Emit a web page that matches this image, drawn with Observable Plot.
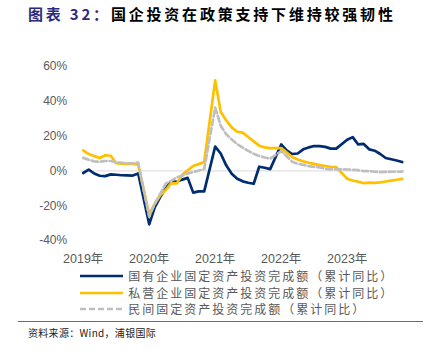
<!DOCTYPE html>
<html><head><meta charset="utf-8">
<script src="https://cdn.jsdelivr.net/npm/d3@7"></script>
<script src="https://cdn.jsdelivr.net/npm/@observablehq/plot@0.6"></script>
<style>
body{margin:0;background:#fff;width:429px;height:354px;position:relative;overflow:hidden;font-family:"Noto Sans CJK SC",sans-serif;}
#title{position:absolute;left:28px;top:3px;font-size:15px;font-weight:700;letter-spacing:2.8px;white-space:nowrap;line-height:22px;color:#000;}
#title .lab{color:#2B2A7E}
#chart{position:absolute;left:0;top:40px;}
#legend{position:absolute;left:80px;top:267.7px;}
.row{display:flex;align-items:center;height:16.67px;}
.row svg{display:block}
.row span{margin-left:5.3px;font-size:12px;letter-spacing:2px;color:#595959;white-space:nowrap;line-height:16px;}
#rule{position:absolute;left:18px;top:321px;width:405px;height:1.4px;background:#6B5FAF}
#source{position:absolute;left:28px;top:325px;font-size:10px;line-height:16px;color:#222;white-space:nowrap;letter-spacing:0.3px}
</style></head>
<body>
<div id="title"><span class="lab">图表 32：</span>国企投资在政策支持下维持较强韧性</div>
<div id="chart"></div>
<div id="legend"></div>
<div id="rule"></div>
<div id="source">资料来源：Wind，浦银国际</div>
<script>
// monthly cumulative data, Feb–Dec of each year (no January release)
const dates = [
  "2019-02","2019-03","2019-04","2019-05","2019-06","2019-07","2019-08","2019-09","2019-10","2019-11","2019-12",
  "2020-02","2020-03","2020-04","2020-05","2020-06","2020-07","2020-08","2020-09","2020-10","2020-11","2020-12",
  "2021-02","2021-03","2021-04","2021-05","2021-06","2021-07","2021-08","2021-09","2021-10","2021-11","2021-12",
  "2022-02","2022-03","2022-04","2022-05","2022-06","2022-07","2022-08","2022-09","2022-10","2022-11","2022-12",
  "2023-02","2023-03","2023-04","2023-05","2023-06","2023-07","2023-08","2023-09","2023-10","2023-11","2023-12"
];
const seriesNames = [
  "国有企业固定资产投资完成额（累计同比）",
  "私营企业固定资产投资完成额（累计同比）",
  "民间固定资产投资完成额（累计同比）"
];
const soe = [
  -1.2, 0.7, -1.5, -2.8, -3.0, -2.0, -2.2, -2.5, -2.6, -2.7, -1.5,
  -30.7, -21, -15, -10, -6, -6.3, -5, -4, -12.5, -11.8, -11.8,
  14, 10, 3.2, -1.6, -4.5, -6, -6.8, -7.4, 2.4, 1.8, 1.0,
  15.2, 11.8, 9.7, 10, 12.4, 13.5, 14.3, 14.2, 13.8, 12.8, 12.8,
  17.9, 19.4, 15.2, 15.5, 12.4, 11.6, 9.7, 7.4, 6.7, 6.0, 5.1
];
const pe = [
  11.8, 9.7, 8.5, 7.4, 9.0, 8.7, 4.5, 4.1, 4.0, 4.0, 3.6,
  -25, -19, -14, -11, -7, -7.2, -2.2, 0.3, 2.8, 3.9, 5.1,
  52, 34, 29, 25, 22.5, 22, 19.5, 17, 14.5, 13.5, 13.1,
  13.1, 10.5, 8, 6.5, 5.5, 4.7, 4, 3.3, 2.8, 2.4, 2.2,
  -4.5, -5.5, -6.2, -7, -6.7, -6.9, -6.6, -6.1, -5.6, -5.1, -4.6
];
const priv = [
  7.5, 6.4, 5.5, 5.3, 5.7, 5.7, 4.9, 4.7, 4.4, 4.5, 4.7,
  -26.4, -18.8, -13.3, -7.3, -5.7, -3.7, -2.8, -1.5, -0.7, 0.2, 1.0,
  36.4, 26.0, 21.0, 18.1, 15.4, 13.4, 11.5, 9.8, 8.6, 7.7, 7.0,
  11.4, 8.4, 5.3, 4.1, 3.5, 2.7, 2.3, 2.0, 1.2, 0.9, 0.9,
  0.8, 0.6, 0.4, -0.1, -0.2, -0.5, -0.7, -0.6, -0.5, -0.5, -0.4
];
const xTickDates = ["2019-02","2020-02","2021-02","2022-02","2023-02"];
const xTickLabels = ["2019年","2020年","2021年","2022年","2023年"];
const yTicks = [-40, -20, 0, 20, 40, 60];
const colors = ["#002D72", "#FFC000", "#BFBFBF"];

// month index since Feb 2019 (Excel date axis with monthly base unit)
const monthIdx = s => { const [y, mo] = s.split("-").map(Number); return (y - 2019) * 12 + (mo - 2); };
const rows = dates.map((d, i) => ({m: monthIdx(d), soe: soe[i], pe: pe[i], priv: priv[i]}));
const xTicks = xTickDates.map(monthIdx);

const chart = Plot.plot({
  width: 429, height: 230,
  marginLeft: 82.7, marginRight: 27.3, marginTop: 26, marginBottom: 30,
  style: {fontFamily: "'Liberation Sans','Noto Sans CJK SC',sans-serif", fontSize: "12px", color: "#595959", background: "transparent", overflow: "visible"},
  x: {type: "linear", domain: [0, monthIdx(dates[dates.length - 1])]},
  y: {domain: [-40, 60]},
  marks: [
    Plot.axisY({ticks: yTicks, tickFormat: d => d + "%", tickSize: 0, tickPadding: 16, fontSize: 12, label: null}),
    Plot.axisX({ticks: xTicks, tickFormat: d => xTickLabels[xTicks.indexOf(d)], tickSize: 0, tickPadding: 14, fontSize: 12.5, label: null}),
    Plot.ruleY([0], {stroke: "#D9D9D9", strokeWidth: 1, insetLeft: -3, insetRight: -3}),
    Plot.line(rows, {x: "m", y: "soe", stroke: colors[0], strokeWidth: 2.7, strokeLinejoin: "round"}),
    Plot.line(rows, {x: "m", y: "pe", stroke: colors[1], strokeWidth: 2.7, strokeLinejoin: "round"}),
    Plot.line(rows, {x: "m", y: "priv", stroke: colors[2], strokeWidth: 2.7, strokeDasharray: "6,3", strokeLinejoin: "round"})
  ]
});
document.getElementById("chart").appendChild(chart);

// legend
const legend = document.getElementById("legend");
seriesNames.forEach((name, i) => {
  const row = document.createElement("div");
  row.className = "row";
  const dash = i === 2 ? 'stroke-dasharray="6,3"' : '';
  row.innerHTML = `<svg width="43" height="6"><line x1="0" y1="3" x2="43" y2="3" stroke="${colors[i]}" stroke-width="2.7" ${dash}/></svg><span>${name}</span>`;
  legend.appendChild(row);
});
</script>
</body></html>
